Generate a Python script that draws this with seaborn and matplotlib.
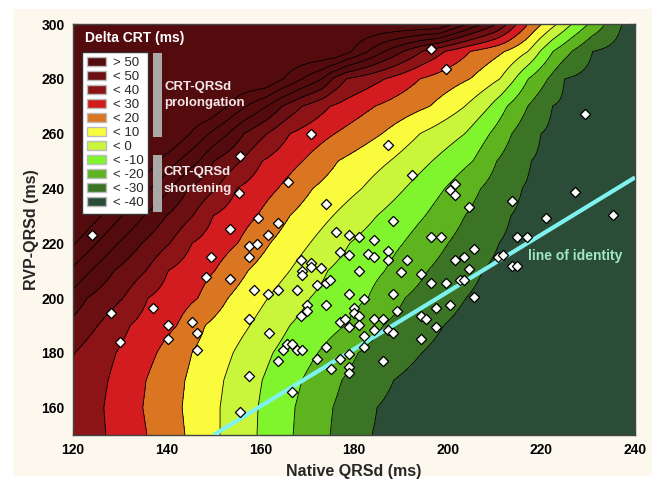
import numpy as np
import seaborn as sns
import matplotlib.pyplot as plt
from matplotlib.patches import Patch, Rectangle

sns.set_theme(style='white')
plt.rcParams['font.family'] = ['Liberation Sans', 'DejaVu Sans']

# contour table: for each RVP-QRSd row, the native QRSd where each
# Delta CRT contour crosses that row
rvp_rows = [150, 160, 170, 180, 190, 200, 210, 220, 230, 240, 250, 260,
            270, 280, 290, 300]
contour_levels = [90, 80, 70, 60, 50, 40, 30, 20, 10, 0, -10, -20, -30, -40,
                  -50]
cross_90 = [90.0, 92.0, 94.0, 96.5, 99.0, 104.5, 110.0, 116.0, 121.5,
            128.0, 134.5, 141.0, 149.0, 161.0, 176.0, 198.0]
cross_80 = [94.0, 96.0, 98.0, 100.5, 103.5, 109.0, 114.5, 120.5, 126.0,
            132.0, 138.5, 145.0, 153.0, 165.0, 179.5, 201.0]
cross_70 = [98.0, 100.0, 102.0, 104.5, 108.0, 113.5, 119.0, 125.0, 130.5,
            136.5, 142.5, 149.0, 157.0, 169.0, 183.0, 204.0]
cross_60 = [102.3, 104.4, 106.5, 109.1, 113.0, 118.3, 123.8, 129.6, 135.2,
            140.9, 146.9, 153.1, 161.4, 173.2, 186.5, 207.3]
cross_50 = [106.5, 108.7, 110.8, 114.0, 117.7, 123.0, 128.8, 134.7, 139.9,
            144.6, 150.1, 156.5, 164.6, 175.3, 190.5, 210.5]
cross_40 = [113.0, 115.1, 117.2, 120.4, 125.3, 130.7, 135.6, 140.7, 145.6,
            150.7, 155.9, 161.4, 168.9, 178.3, 194.5, 212.7]
cross_30 = [127.0, 126.6, 127.5, 129.2, 132.2, 136.0, 140.3, 145.4, 149.9,
            155.0, 160.4, 166.3, 174.9, 186.6, 199.4, 214.8]
cross_20 = [135.8, 134.9, 135.6, 137.9, 142.2, 146.7, 150.3, 155.2, 159.3,
            163.8, 169.1, 175.9, 184.5, 194.1, 204.8, 217.1]
cross_10 = [143.9, 143.3, 143.9, 145.4, 148.2, 153.1, 157.4, 162.1, 166.3,
            171.2, 176.6, 186.0, 196.2, 204.8, 212.2, 220.1]
cross_0 = [151.4, 151.4, 152.2, 154.2, 157.8, 161.6, 166.3, 170.6, 175.5,
           181.7, 187.7, 194.1, 203.7, 211.2, 217.2, 223.3]
cross_m10 = [159.3, 159.5, 160.4, 162.7, 166.3, 170.6, 174.4, 179.1, 184.9,
             190.9, 196.7, 203.7, 209.0, 214.4, 219.7, 226.5]
cross_m20 = [167.0, 167.4, 168.9, 172.3, 178.1, 183.0, 186.6, 190.5, 195.2,
             199.4, 205.4, 209.0, 212.7, 217.2, 222.5, 230.0]
cross_m30 = [174.9, 175.5, 177.4, 180.9, 186.2, 190.9, 195.8, 200.1, 203.7,
             207.1, 210.5, 213.7, 217.1, 221.4, 226.5, 233.6]
cross_m40 = [183.8, 184.9, 188.5, 194.5, 199.2, 203.9, 207.5, 211.0, 213.5,
             215.9, 217.8, 219.9, 222.3, 225.0, 231.0, 237.2]
cross_m50 = [200.0, 202.0, 206.0, 212.0, 217.0, 222.0, 226.0, 229.0, 232.0,
             235.0, 237.0, 239.0, 241.0, 244.0, 248.0, 252.0]

# patients
native_qrsd = [124.1, 128.1, 130.0, 137.1, 140.3, 140.3, 145.4, 146.5, 146.5,
               148.4, 149.5, 153.5, 153.5, 155.4, 155.7, 155.7, 157.6, 157.6,
               157.6, 157.6, 158.6, 159.5, 159.3, 161.6, 163.8, 161.6, 161.8,
               163.8, 163.8, 164.8, 165.7, 166.8, 165.9, 166.8, 167.8, 167.8,
               168.9, 168.7, 170.8, 170.8, 168.9, 168.9, 168.7, 170.0, 170.0,
               170.8, 172.1, 172.1, 173.0, 174.0, 174.0, 174.9, 174.0, 174.0,
               175.1, 176.2, 177.0, 177.0, 177.0, 178.1, 178.9, 178.9, 178.9,
               178.9, 178.9, 178.9, 178.9, 180.0, 180.0, 181.1, 181.1, 181.1,
               181.1, 182.1, 182.1, 182.1, 183.0, 184.3, 184.3, 184.3, 184.3,
               186.2, 186.2, 187.3, 187.3, 187.3, 187.3, 188.3, 188.3, 188.3,
               189.2, 190.0, 191.3, 192.4, 194.3, 194.3, 195.4, 196.4, 196.4,
               196.4, 197.5, 197.5, 194.3, 198.6, 199.6, 199.6, 200.5, 200.5,
               201.6, 201.6, 201.6, 202.6, 203.5, 203.5, 204.5, 204.5, 205.6,
               205.6, 210.7, 211.8, 213.7, 213.7, 214.8, 214.8, 216.9, 221.0,
               227.2, 229.3, 235.3]
rvp_qrsd = [223.0, 194.5, 183.9, 196.4, 190.1, 185.0, 191.2, 187.2, 181.0,
            207.7, 215.0, 225.2, 206.9, 238.3, 251.8, 158.4, 219.0, 215.0,
            192.3, 171.5, 202.9, 229.2, 219.7, 223.0, 227.4, 201.5, 187.2,
            202.9, 177.0, 181.0, 183.2, 183.2, 242.3, 165.7, 202.9, 181.0,
            181.0, 213.9, 212.8, 211.3, 209.9, 208.4, 193.4, 197.4, 195.3,
            259.9, 204.7, 177.7, 210.9, 234.3, 205.5, 206.6, 197.4, 182.1,
            174.1, 224.1, 216.8, 191.2, 177.7, 192.3, 223.0, 215.7, 201.5,
            189.4, 179.6, 174.8, 172.6, 196.4, 194.5, 222.3, 209.9, 193.4,
            190.1, 199.6, 186.1, 182.1, 216.1, 221.2, 215.0, 192.3, 188.3,
            192.3, 177.0, 255.8, 217.2, 213.9, 188.3, 228.1, 201.5, 187.2,
            195.3, 209.5, 213.9, 244.9, 208.8, 193.4, 192.3, 290.9, 222.3,
            205.5, 196.4, 189.4, 185.0, 222.3, 283.6, 205.5, 239.4, 197.4,
            241.6, 237.6, 213.9, 206.6, 215.0, 206.6, 233.2, 210.6, 217.9,
            200.4, 215.0, 215.7, 235.4, 211.7, 222.3, 211.7, 222.3, 229.2,
            238.7, 267.2, 230.3]

identity_x = [150, 240]
identity_y = [150, 244]

fill_levels = [-60, -40, -30, -20, -10, 0, 10, 20, 30, 40, 50, 100]
band_colors = ['#2b4c37', '#3b7424', '#5db41f', '#80f42c', '#c9f53a',
               '#fbfb3d', '#da7521', '#d21c1f', '#8c1417', '#6b0f13',
               '#530b0e']
legend_labels = ['> 50', '< 50', '< 40', '< 30', '< 20', '< 10', '< 0',
                 '< -10', '< -20', '< -30', '< -40']
line_levels = [-40, -30, -20, -10, 0, 10, 20, 30, 40, 50, 60, 70, 80]

crossings = [cross_90, cross_80, cross_70, cross_60, cross_50, cross_40,
             cross_30, cross_20, cross_10, cross_0, cross_m10, cross_m20,
             cross_m30, cross_m40, cross_m50]

# build the Delta CRT field row by row from the crossing table
x_grid = np.arange(118, 242.01, 0.5)
z_rows = []
for i in range(len(rvp_rows)):
    xp = [c[i] for c in crossings]
    z_rows.append(np.interp(x_grid, xp, contour_levels))
Z = np.array(z_rows)
X, Y = np.meshgrid(x_grid, rvp_rows)

fig, ax = plt.subplots(figsize=(6.62, 4.82), dpi=100)
fig.patch.set_facecolor('white')
fig.add_artist(Rectangle((0.0196, 0.0124), 0.965, 0.969,
                         transform=fig.transFigure, facecolor='#fcf8ed',
                         edgecolor='none', zorder=-10))
fig.subplots_adjust(left=0.1103, right=0.9592, bottom=0.0975, top=0.9502)

ax.contourf(X, Y, Z, levels=fill_levels, colors=band_colors)
ax.contour(X, Y, Z, levels=line_levels, colors='black', linewidths=0.6,
           linestyles='solid')

ax.plot(identity_x, identity_y, color='#7ff2f0', linewidth=3, zorder=4,
        solid_capstyle='butt')
sns.scatterplot(x=native_qrsd, y=rvp_qrsd, marker='D', s=27, color='white',
                edgecolor='black', linewidth=0.9, ax=ax, zorder=5)

ax.set_xlim(120, 240)
ax.set_ylim(150, 300)
ax.set_xticks(range(120, 241, 20))
ax.set_yticks(range(160, 301, 20))
ax.tick_params(direction='in', length=4, width=0.8, labelsize=10,
               colors='black', right=True, bottom=True, left=True, pad=6)
for lab in ax.get_xticklabels() + ax.get_yticklabels():
    lab.set_fontweight('bold')
for sp in ax.spines.values():
    sp.set_color('#444444')
    sp.set_linewidth(1)
ax.set_xlabel('Native QRSd (ms)', fontsize=11.5, fontweight='bold',
              labelpad=5)
ax.set_ylabel('RVP-QRSd (ms)', fontsize=11.5, fontweight='bold', labelpad=2)

# legend block in the upper left corner
handles = [Patch(facecolor=c, edgecolor='#bbbbbb', label=l)
           for c, l in zip(band_colors[::-1], legend_labels)]
ax.legend(handles=handles, loc='upper left', bbox_to_anchor=(0.016, 0.932),
          frameon=True, fancybox=False, edgecolor='#333333', framealpha=1,
          fontsize=9.5, handlelength=1.5, handleheight=0.75,
          labelspacing=0.12, borderpad=0.35, handletextpad=0.5,
          borderaxespad=0)
ax.text(0.022, 0.966, 'Delta CRT (ms)', transform=ax.transAxes,
        color='white', fontsize=10, fontweight='bold', va='center')
ax.add_patch(Rectangle((0.1423, 0.725), 0.0161, 0.204,
                       transform=ax.transAxes, facecolor='#a9a9a9',
                       edgecolor='none', zorder=6))
ax.add_patch(Rectangle((0.1423, 0.5426), 0.0161, 0.138,
                       transform=ax.transAxes, facecolor='#a9a9a9',
                       edgecolor='none', zorder=6))
ax.text(0.163, 0.827, 'CRT-QRSd\nprolongation', transform=ax.transAxes,
        color='#f3e6e6', fontsize=9.5, fontweight='bold', va='center',
        linespacing=1.5)
ax.text(0.161, 0.619, 'CRT-QRSd\nshortening', transform=ax.transAxes,
        color='#f3e6e6', fontsize=9.5, fontweight='bold', va='center',
        linespacing=1.5)
ax.text(0.81, 0.4355, 'line of identity', transform=ax.transAxes,
        color='#9fe9c6', fontsize=10, fontweight='bold', va='center')

fig.savefig('out.png', dpi=100, facecolor=fig.get_facecolor())
